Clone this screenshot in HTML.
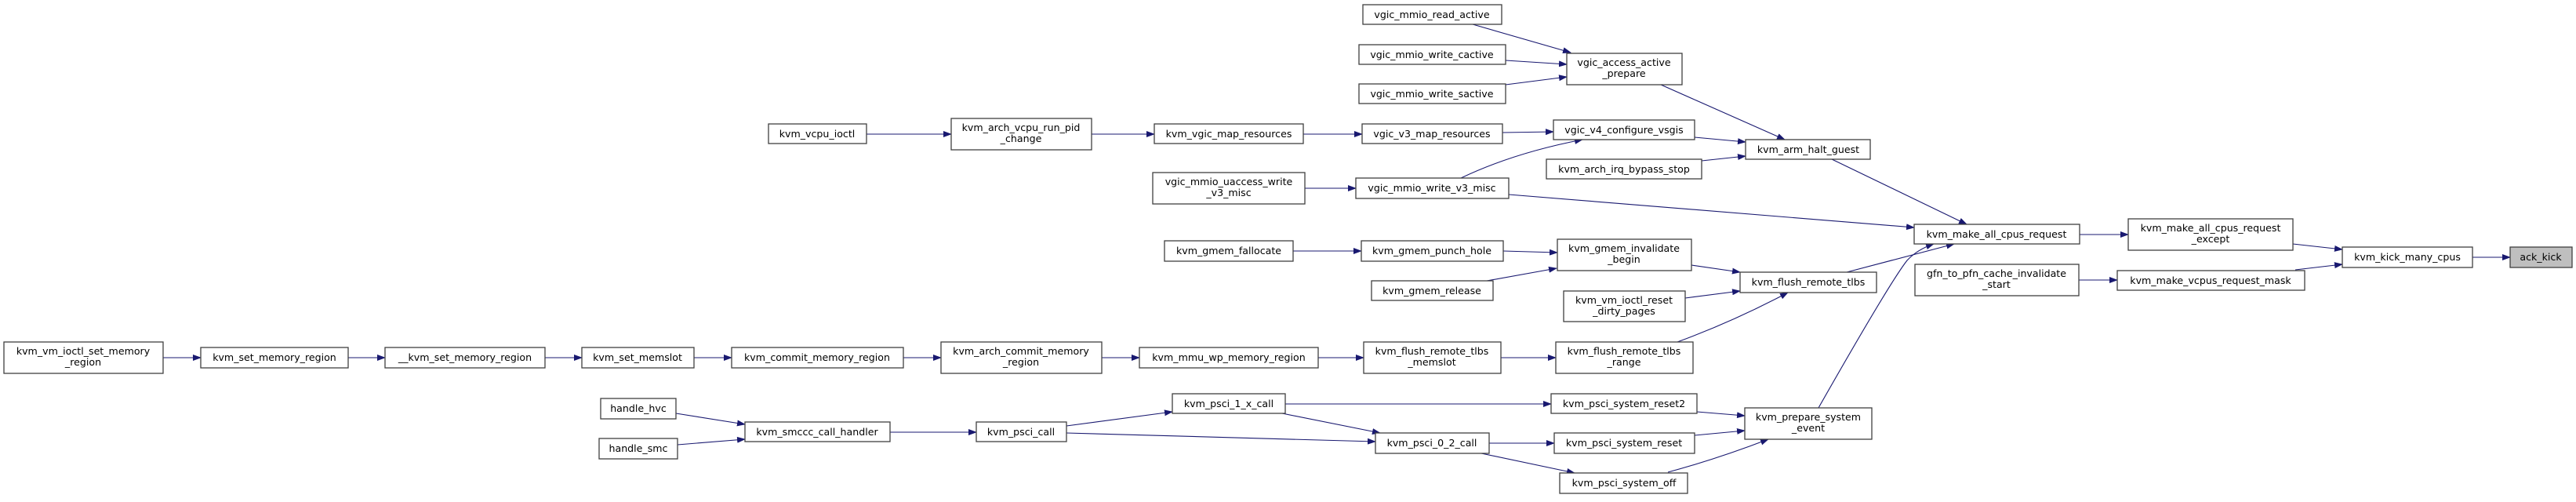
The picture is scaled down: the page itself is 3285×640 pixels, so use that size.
<!DOCTYPE html>
<html><head><meta charset="utf-8"><style>
html,body{margin:0;padding:0;background:#fff;}
svg text{font-family:"DejaVu Sans","Liberation Sans",sans-serif;font-size:12.6px;fill:#000;text-anchor:middle;}
rect{fill:#fff;stroke:#404040;stroke-width:1.3;}
.e{fill:none;stroke:#191970;stroke-width:1.1;}
</style></head><body>
<svg width="3285" height="635" viewBox="0 0 3285 635" xmlns="http://www.w3.org/2000/svg">
<defs><marker id="a" markerWidth="11" markerHeight="8" refX="10" refY="4" orient="auto" markerUnits="userSpaceOnUse"><path d="M0,0 L11,4 L0,8 z" fill="#191970"/></marker></defs>
<g class="edges">
<path class="e" marker-end="url(#a)" d="M208,456 L256,456"/>
<path class="e" marker-end="url(#a)" d="M444,456 L491,456"/>
<path class="e" marker-end="url(#a)" d="M695,456 L742,456"/>
<path class="e" marker-end="url(#a)" d="M885,456 L933,456"/>
<path class="e" marker-end="url(#a)" d="M1152,456 L1200,456"/>
<path class="e" marker-end="url(#a)" d="M1405,456 L1453,456"/>
<path class="e" marker-end="url(#a)" d="M1681,456 L1739,456"/>
<path class="e" marker-end="url(#a)" d="M1914,456 L1984,456"/>
<path class="e" marker-end="url(#a)" d="M2139,436 Q2210,410 2280,373"/>
<path class="e" marker-end="url(#a)" d="M2149,380 L2219,371"/>
<path class="e" marker-end="url(#a)" d="M2157,338 L2219,347"/>
<path class="e" marker-end="url(#a)" d="M2355,347 L2492,311"/>
<path class="e" marker-end="url(#a)" d="M2319,520 Q2410,360 2432,332 Q2445,318 2466,311"/>
<path class="e" marker-end="url(#a)" d="M1924,248 L2441,290"/>
<path class="e" marker-end="url(#a)" d="M2336,203 L2508,286"/>
<path class="e" marker-end="url(#a)" d="M2118,108 L2276,178"/>
<path class="e" marker-end="url(#a)" d="M2161,175 L2226,181"/>
<path class="e" marker-end="url(#a)" d="M2170,205 L2226,199"/>
<path class="e" marker-end="url(#a)" d="M1878,31 L2003,67"/>
<path class="e" marker-end="url(#a)" d="M1920,77 L1998,82"/>
<path class="e" marker-end="url(#a)" d="M1920,108 L1998,98"/>
<path class="e" marker-end="url(#a)" d="M1916,169 L1981,168"/>
<path class="e" marker-end="url(#a)" d="M1863,227 Q1930,195 2018,178"/>
<path class="e" marker-end="url(#a)" d="M1664,240 L1729,240"/>
<path class="e" marker-end="url(#a)" d="M1662,171 L1737,171"/>
<path class="e" marker-end="url(#a)" d="M1392,171 L1472,171"/>
<path class="e" marker-end="url(#a)" d="M1105,171 L1213,171"/>
<path class="e" marker-end="url(#a)" d="M1649,320 L1736,320"/>
<path class="e" marker-end="url(#a)" d="M1917,320 L1986,322"/>
<path class="e" marker-end="url(#a)" d="M1896,358 L1985,342"/>
<path class="e" marker-end="url(#a)" d="M2652,299 L2714,299"/>
<path class="e" marker-end="url(#a)" d="M2651,357 L2700,357"/>
<path class="e" marker-end="url(#a)" d="M2924,311 L2987,318"/>
<path class="e" marker-end="url(#a)" d="M2927,344 L2987,337"/>
<path class="e" marker-end="url(#a)" d="M3153,328 L3201,328"/>
<path class="e" marker-end="url(#a)" d="M862,527 L950,541"/>
<path class="e" marker-end="url(#a)" d="M864,567 L950,560"/>
<path class="e" marker-end="url(#a)" d="M1135,551 L1245,551"/>
<path class="e" marker-end="url(#a)" d="M1360,543 L1495,525"/>
<path class="e" marker-end="url(#a)" d="M1360,552 L1754,563"/>
<path class="e" marker-end="url(#a)" d="M1635,527 L1760,552"/>
<path class="e" marker-end="url(#a)" d="M1639,515 L1978,515"/>
<path class="e" marker-end="url(#a)" d="M1899,565 L1982,565"/>
<path class="e" marker-end="url(#a)" d="M1889,578 L2008,603"/>
<path class="e" marker-end="url(#a)" d="M2164,525 L2225,530"/>
<path class="e" marker-end="url(#a)" d="M2161,555 L2225,549"/>
<path class="e" marker-end="url(#a)" d="M2127,602 Q2190,585 2255,560"/>
</g>
<g>
<rect x="5" y="436" width="203" height="40"/><text x="106" y="452">kvm_vm_ioctl_set_memory</text><text x="106" y="466">_region</text>
<rect x="256" y="443" width="188" height="26"/><text x="350" y="460">kvm_set_memory_region</text>
<rect x="491" y="443" width="204" height="26"/><text x="593" y="460">__kvm_set_memory_region</text>
<rect x="742" y="443" width="143" height="26"/><text x="813" y="460">kvm_set_memslot</text>
<rect x="933" y="443" width="219" height="26"/><text x="1042" y="460">kvm_commit_memory_region</text>
<rect x="1200" y="436" width="205" height="40"/><text x="1302" y="452">kvm_arch_commit_memory</text><text x="1302" y="466">_region</text>
<rect x="1453" y="443" width="228" height="26"/><text x="1567" y="460">kvm_mmu_wp_memory_region</text>
<rect x="1739" y="436" width="175" height="40"/><text x="1826" y="452">kvm_flush_remote_tlbs</text><text x="1826" y="466">_memslot</text>
<rect x="1984" y="436" width="175" height="40"/><text x="2071" y="452">kvm_flush_remote_tlbs</text><text x="2071" y="466">_range</text>
<rect x="766" y="508" width="96" height="26"/><text x="814" y="525">handle_hvc</text>
<rect x="764" y="559" width="100" height="26"/><text x="814" y="576">handle_smc</text>
<rect x="950" y="538" width="185" height="25"/><text x="1042" y="555">kvm_smccc_call_handler</text>
<rect x="1245" y="538" width="115" height="25"/><text x="1302" y="555">kvm_psci_call</text>
<rect x="1495" y="502" width="144" height="25"/><text x="1567" y="519">kvm_psci_1_x_call</text>
<rect x="1754" y="552" width="145" height="26"/><text x="1826" y="569">kvm_psci_0_2_call</text>
<rect x="1978" y="502" width="186" height="25"/><text x="2071" y="519">kvm_psci_system_reset2</text>
<rect x="1982" y="552" width="179" height="26"/><text x="2071" y="569">kvm_psci_system_reset</text>
<rect x="1989" y="603" width="163" height="26"/><text x="2071" y="620">kvm_psci_system_off</text>
<rect x="2225" y="520" width="162" height="40"/><text x="2306" y="536">kvm_prepare_system</text><text x="2306" y="550">_event</text>
<rect x="980" y="158" width="125" height="25"/><text x="1042" y="175">kvm_vcpu_ioctl</text>
<rect x="1213" y="151" width="179" height="40"/><text x="1302" y="167">kvm_arch_vcpu_run_pid</text><text x="1302" y="181">_change</text>
<rect x="1472" y="158" width="190" height="25"/><text x="1567" y="175">kvm_vgic_map_resources</text>
<rect x="1470" y="220" width="194" height="40"/><text x="1567" y="236">vgic_mmio_uaccess_write</text><text x="1567" y="250">_v3_misc</text>
<rect x="1485" y="307" width="164" height="26"/><text x="1567" y="324">kvm_gmem_fallocate</text>
<rect x="1738" y="6" width="177" height="25"/><text x="1826" y="23">vgic_mmio_read_active</text>
<rect x="1733" y="57" width="187" height="25"/><text x="1826" y="74">vgic_mmio_write_cactive</text>
<rect x="1733" y="107" width="187" height="25"/><text x="1826" y="124">vgic_mmio_write_sactive</text>
<rect x="1737" y="158" width="179" height="25"/><text x="1826" y="175">vgic_v3_map_resources</text>
<rect x="1729" y="227" width="195" height="26"/><text x="1826" y="244">vgic_mmio_write_v3_misc</text>
<rect x="1736" y="307" width="181" height="26"/><text x="1826" y="324">kvm_gmem_punch_hole</text>
<rect x="1749" y="358" width="155" height="25"/><text x="1826" y="375">kvm_gmem_release</text>
<rect x="1998" y="68" width="147" height="40"/><text x="2071" y="84">vgic_access_active</text><text x="2071" y="98">_prepare</text>
<rect x="1981" y="153" width="180" height="25"/><text x="2071" y="170">vgic_v4_configure_vsgis</text>
<rect x="1972" y="203" width="198" height="25"/><text x="2071" y="220">kvm_arch_irq_bypass_stop</text>
<rect x="2226" y="178" width="159" height="25"/><text x="2306" y="195">kvm_arm_halt_guest</text>
<rect x="1986" y="305" width="171" height="40"/><text x="2071" y="321">kvm_gmem_invalidate</text><text x="2071" y="335">_begin</text>
<rect x="1994" y="371" width="155" height="39"/><text x="2071" y="387">kvm_vm_ioctl_reset</text><text x="2071" y="401">_dirty_pages</text>
<rect x="2219" y="347" width="174" height="26"/><text x="2306" y="364">kvm_flush_remote_tlbs</text>
<rect x="2441" y="286" width="211" height="25"/><text x="2546" y="303">kvm_make_all_cpus_request</text>
<rect x="2442" y="337" width="209" height="40"/><text x="2546" y="353">gfn_to_pfn_cache_invalidate</text><text x="2546" y="367">_start</text>
<rect x="2714" y="279" width="210" height="40"/><text x="2819" y="295">kvm_make_all_cpus_request</text><text x="2819" y="309">_except</text>
<rect x="2700" y="345" width="239" height="25"/><text x="2819" y="362">kvm_make_vcpus_request_mask</text>
<rect x="2987" y="315" width="166" height="26"/><text x="3070" y="332">kvm_kick_many_cpus</text>
<rect x="3201" y="315" width="79" height="26" style="fill:#bfbfbf"/><text x="3240" y="332">ack_kick</text>
</g>
</svg>
</body></html>
